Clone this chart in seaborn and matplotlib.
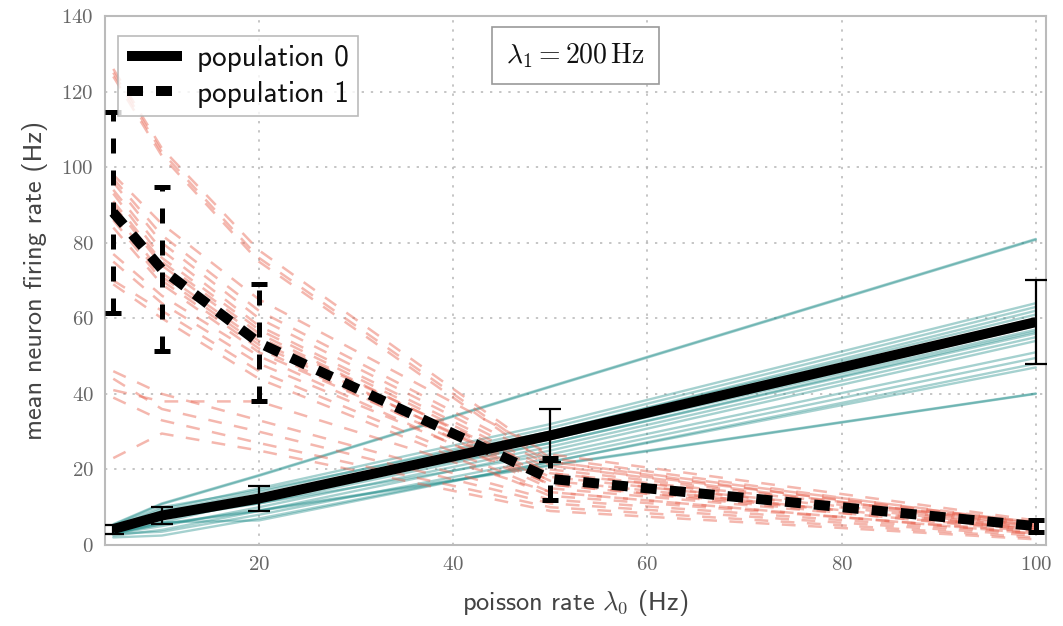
import numpy as np
import pandas as pd
import matplotlib
matplotlib.use("Agg")
import matplotlib.pyplot as plt
import seaborn as sns

# Poisson input rates (Hz)
rates = [5, 10, 20, 50, 100]

# Individual neuron firing rates, population 0 (Hz)
pop0_neurons = [
    [5.5, 11.0, 18.5, 42.0, 81.0],
    [5.3, 10.8, 18.3, 41.8, 80.8],
    [4.5, 9.5, 15.0, 32.0, 64.0],
    [4.0, 9.0, 14.0, 31.0, 63.0],
    [5.0, 10.0, 14.5, 30.0, 62.0],
    [4.0, 8.5, 13.0, 30.0, 61.0],
    [3.5, 8.0, 12.0, 29.0, 60.0],
    [4.5, 7.0, 13.0, 28.0, 58.0],
    [3.0, 6.0, 12.0, 28.0, 57.0],
    [4.0, 7.5, 12.5, 27.0, 56.5],
    [3.5, 8.0, 11.0, 27.0, 56.0],
    [3.0, 5.0, 10.0, 26.0, 55.0],
    [2.5, 4.0, 9.0, 25.0, 54.0],
    [4.0, 7.0, 11.0, 24.0, 51.0],
    [3.0, 3.5, 8.0, 23.0, 49.5],
    [2.0, 2.5, 7.0, 22.0, 48.0],
    [3.5, 6.0, 6.5, 22.0, 47.0],
    [3.0, 5.5, 9.0, 21.0, 40.0],
    [3.2, 5.6, 9.2, 21.2, 40.1],
]

# Individual neuron firing rates, population 1 (Hz)
pop1_neurons = [
    [126.0, 105.0, 78.0, 23.0, 5.5],
    [125.0, 104.0, 76.0, 22.0, 5.0],
    [124.0, 103.0, 75.0, 21.0, 6.0],
    [98.0, 85.0, 65.0, 24.0, 6.5],
    [97.0, 82.0, 62.0, 22.0, 6.0],
    [96.0, 80.0, 60.0, 21.0, 5.0],
    [94.0, 78.0, 58.0, 20.0, 5.5],
    [93.0, 76.0, 57.0, 19.0, 5.0],
    [91.0, 75.0, 56.0, 18.0, 4.5],
    [90.0, 74.0, 55.0, 19.0, 6.0],
    [88.0, 72.0, 54.0, 17.0, 4.0],
    [87.0, 71.0, 53.0, 18.0, 5.0],
    [86.0, 70.0, 52.0, 16.0, 4.5],
    [84.0, 69.0, 51.0, 17.0, 4.0],
    [77.0, 66.0, 50.0, 15.0, 4.0],
    [75.0, 64.0, 48.0, 16.0, 3.5],
    [70.0, 62.0, 46.0, 14.0, 3.0],
    [69.0, 60.0, 44.0, 13.0, 3.5],
    [46.0, 40.0, 33.0, 12.0, 3.0],
    [44.0, 36.0, 30.0, 11.0, 2.5],
    [41.0, 38.0, 38.0, 14.0, 3.0],
    [39.0, 33.0, 27.0, 10.0, 2.0],
    [23.0, 29.5, 25.0, 9.0, 1.5],
]

# Population means and standard deviations (Hz)
pop0_mean = [4.2, 7.8, 12.3, 29.0, 59.0]
pop0_std = [1.2, 2.2, 3.3, 7.0, 11.2]
pop1_mean = [88.0, 73.0, 53.5, 17.5, 5.0]
pop1_std = [26.5, 21.7, 15.5, 5.5, 1.5]

legend_labels = ["population 0", "population 1"]
annotation = r"$\lambda_1 = 200\,\mathrm{Hz}$"
xlabel = r"poisson rate $\lambda_0$ (Hz)"
ylabel = "mean neuron firing rate (Hz)"


def to_long(neurons):
    rows = []
    for i, vals in enumerate(neurons):
        for r, v in zip(rates, vals):
            rows.append({"neuron": i, "rate": r, "fr": v})
    return pd.DataFrame(rows)


df0 = to_long(pop0_neurons)
df1 = to_long(pop1_neurons)
dfm = pd.DataFrame({"rate": rates, "m0": pop0_mean, "s0": pop0_std,
                    "m1": pop1_mean, "s1": pop1_std})

sns.set_theme(style="white")
plt.rcParams["mathtext.fontset"] = "cm"
plt.rcParams["font.family"] = ["cmss10", "DejaVu Sans"]
plt.rcParams["axes.formatter.use_mathtext"] = True

teal = "#1f8c89"
salmon = "#e8604c"
grey = "#666666"

fig, ax = plt.subplots(figsize=(10.63, 6.26), dpi=100)
fig.subplots_adjust(left=0.0988, right=0.984, top=0.9744, bottom=0.1294)

# individual neurons
sns.lineplot(data=df0, x="rate", y="fr", units="neuron", estimator=None,
             color=teal, alpha=0.4, lw=1.7, ax=ax, legend=False)
sns.lineplot(data=df1, x="rate", y="fr", units="neuron", estimator=None,
             color=salmon, alpha=0.45, lw=1.8, linestyle=(0, (5.5, 5.0)),
             ax=ax, legend=False)

# error bars
ax.errorbar(dfm["rate"], dfm["m0"], yerr=dfm["s0"], fmt="none", ecolor="black",
            elinewidth=1.6, capsize=8, capthick=1.6, zorder=4)
eb1 = ax.errorbar(dfm["rate"], dfm["m1"], yerr=dfm["s1"], fmt="none",
                  ecolor="black", elinewidth=3.6, capsize=5.5, capthick=3.6,
                  zorder=4)
for coll in eb1[2]:
    coll.set_linestyle((0, (3.0, 3.4)))

# population means
sns.lineplot(data=dfm, x="rate", y="m0", color="black", lw=7.2, ax=ax,
             label=legend_labels[0], zorder=5, solid_capstyle="butt")
sns.lineplot(data=dfm, x="rate", y="m1", color="black", lw=7.2,
             linestyle=(0, (1.6, 1.3)), ax=ax, label=legend_labels[1],
             zorder=5, dash_capstyle="butt")

ax.set_xlim(4.15, 101.05)
ax.set_ylim(0, 140)
ax.set_xticks([20, 40, 60, 80, 100])
ax.set_yticks([0, 20, 40, 60, 80, 100, 120, 140])
ax.grid(True, color="#b5b5b5", linestyle=(0, (1.5, 4.5)), lw=1.1)
ax.tick_params(length=0, labelsize=15, labelcolor=grey, pad=8)
for lab in ax.get_xticklabels() + ax.get_yticklabels():
    lab.set_family(["cmr10", "DejaVu Serif"])
for sp in ax.spines.values():
    sp.set_color("#bbbbbb")
    sp.set_linewidth(1.5)

ax.set_xlabel(xlabel, fontsize=19, color="#444444", labelpad=10)
ax.set_ylabel(ylabel, fontsize=19, color="#444444", labelpad=10)

leg = ax.legend(loc="upper left", fontsize=21, frameon=True, fancybox=False,
                handlelength=1.9, handletextpad=0.5, borderpad=0.3,
                labelspacing=0.3, borderaxespad=0.0,
                bbox_to_anchor=(0.014, 0.962))
leg.get_frame().set_edgecolor("#aaaaaa")
leg.get_frame().set_linewidth(1.2)
for t in leg.get_texts():
    t.set_color("#111111")

ax.text(0.5, 0.925, annotation, transform=ax.transAxes, ha="center",
        va="center", fontsize=20, color="#111111",
        bbox=dict(boxstyle="square,pad=0.5", fc="white", ec="#999999", lw=1.2))

fig.savefig("out.png", dpi=100)
